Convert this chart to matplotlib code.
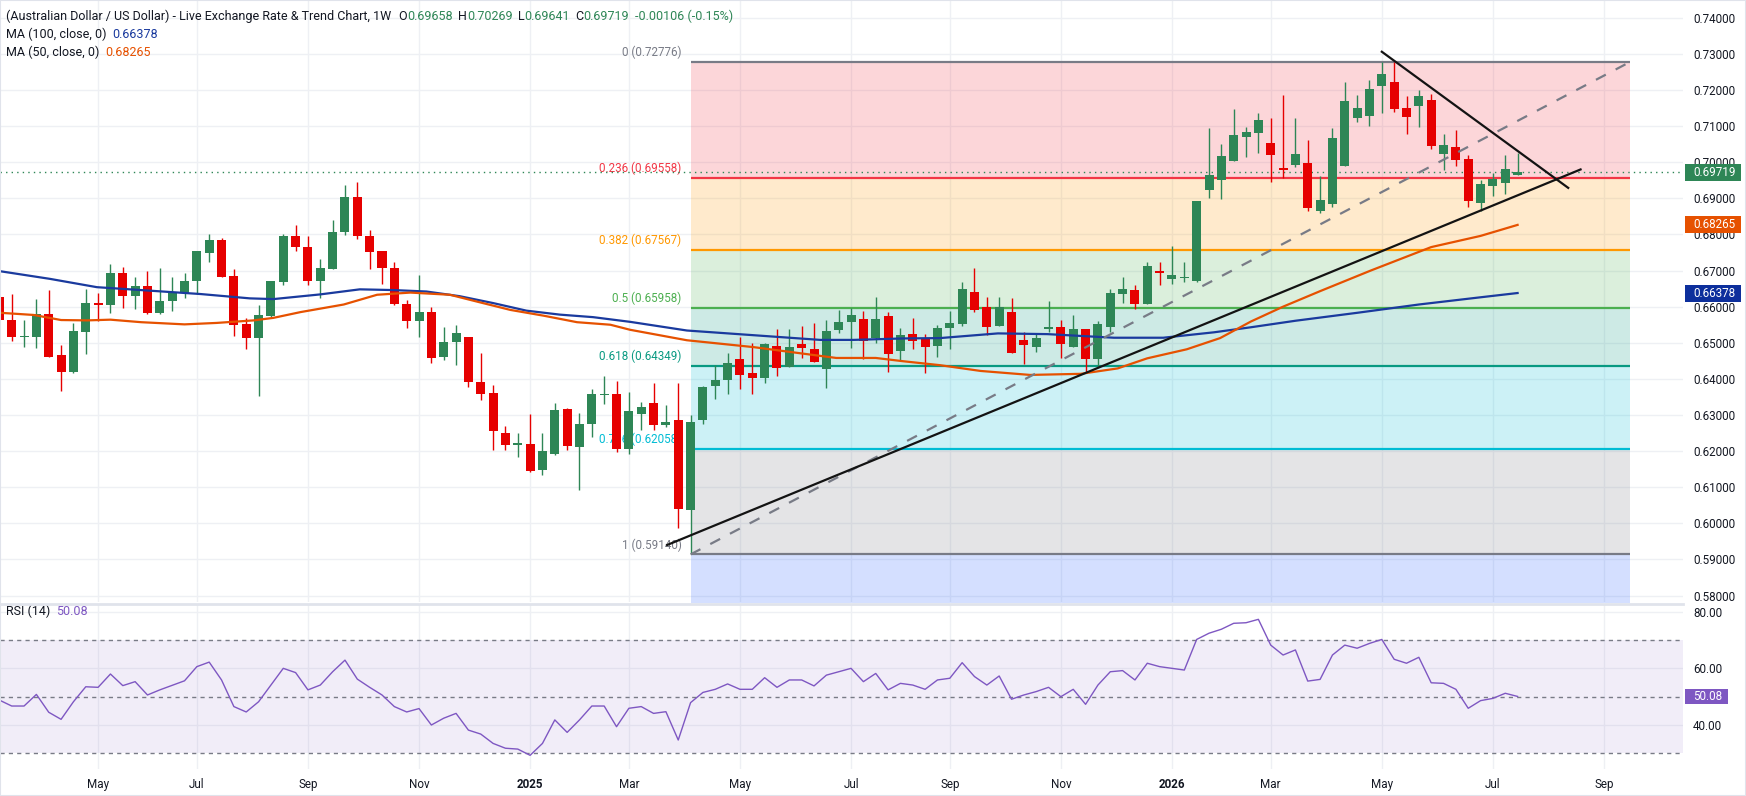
import numpy as np
import matplotlib
matplotlib.use("Agg")
import matplotlib.pyplot as plt
import matplotlib.transforms as mtransforms
from matplotlib.patches import Rectangle
from matplotlib.lines import Line2D

plt.rcParams["font.family"] = ["Roboto", "DejaVu Sans"]

# ── weekly candles, AUD/USD (bar index 0..123) ─────────────────────────────────
OPEN = [0.6626, 0.6564, 0.6515, 0.6515, 0.6581, 0.6465, 0.6418, 0.6531, 0.6611, 0.6604,
        0.6694, 0.6629, 0.6656, 0.6582, 0.6615, 0.6639, 0.6670, 0.6750, 0.6786, 0.6686,
        0.6551, 0.6513, 0.6575, 0.6667, 0.6797, 0.6766, 0.6670, 0.6704, 0.6806, 0.6905,
        0.6796, 0.6753, 0.6708, 0.6608, 0.6560, 0.6584, 0.6460, 0.6502, 0.6515, 0.6391,
        0.6362, 0.6250, 0.6218, 0.6221, 0.6147, 0.6191, 0.6318, 0.6211, 0.6274, 0.6355,
        0.6357, 0.6207, 0.6302, 0.6332, 0.6272, 0.6285, 0.6037, 0.6286, 0.6380, 0.6397,
        0.6454, 0.6415, 0.6402, 0.6490, 0.6434, 0.6496, 0.6482, 0.6427, 0.6536, 0.6557,
        0.6565, 0.6512, 0.6574, 0.6477, 0.6524, 0.6511, 0.6491, 0.6542, 0.6551, 0.6642,
        0.6598, 0.6546, 0.6584, 0.6508, 0.6488, 0.6538, 0.6545, 0.6488, 0.6537, 0.6455,
        0.6543, 0.6635, 0.6645, 0.6607, 0.6700, 0.6677, 0.6680, 0.6670, 0.6923, 0.6952,
        0.7004, 0.7071, 0.7082, 0.7053, 0.6984, 0.6993, 0.6998, 0.6866, 0.6885, 0.6990,
        0.7123, 0.7129, 0.7212, 0.7222, 0.7150, 0.7156, 0.7172, 0.7023, 0.7042, 0.7009,
        0.6887, 0.6934, 0.6942, 0.69658]
HIGH = [0.6632, 0.6636, 0.6562, 0.6620, 0.6647, 0.6495, 0.6556, 0.6650, 0.6639, 0.6717,
        0.6711, 0.6681, 0.6700, 0.6706, 0.6681, 0.6692, 0.6755, 0.6800, 0.6791, 0.6703,
        0.6570, 0.6606, 0.6672, 0.6800, 0.6825, 0.6797, 0.6733, 0.6841, 0.6938, 0.6944,
        0.6811, 0.6755, 0.6725, 0.6619, 0.6689, 0.6600, 0.6545, 0.6550, 0.6517, 0.6472,
        0.6384, 0.6269, 0.6250, 0.6304, 0.6250, 0.6333, 0.6320, 0.6306, 0.6371, 0.6409,
        0.6395, 0.6364, 0.6336, 0.6390, 0.6328, 0.6388, 0.6301, 0.6379, 0.6439, 0.6471,
        0.6515, 0.6499, 0.6499, 0.6537, 0.6537, 0.6546, 0.6554, 0.6564, 0.6590, 0.6597,
        0.6587, 0.6626, 0.6585, 0.6540, 0.6568, 0.6524, 0.6549, 0.6587, 0.6667, 0.6706,
        0.6628, 0.6628, 0.6623, 0.6531, 0.6528, 0.6617, 0.6562, 0.6578, 0.6537, 0.6559,
        0.6648, 0.6683, 0.6661, 0.6725, 0.6725, 0.6767, 0.6725, 0.6894, 0.7095, 0.7050,
        0.7147, 0.7098, 0.7136, 0.7122, 0.7186, 0.7122, 0.7062, 0.6962, 0.7095, 0.7222,
        0.7186, 0.7228, 0.72776, 0.7277, 0.7183, 0.7200, 0.7189, 0.7078, 0.7089, 0.7020,
        0.6951, 0.6971, 0.7020, 0.70269]
LOW = [0.6556, 0.6506, 0.6488, 0.6485, 0.6460, 0.6366, 0.6417, 0.6468, 0.6560, 0.6582,
       0.6596, 0.6593, 0.6581, 0.6579, 0.6587, 0.6623, 0.6636, 0.6725, 0.6681, 0.6518,
       0.6482, 0.6352, 0.6571, 0.6661, 0.6753, 0.6661, 0.6624, 0.6703, 0.6798, 0.6787,
       0.6704, 0.6663, 0.6604, 0.6540, 0.6515, 0.6443, 0.6451, 0.6438, 0.6377, 0.6341,
       0.6203, 0.6203, 0.6183, 0.6141, 0.6133, 0.6190, 0.6202, 0.6092, 0.6238, 0.6330,
       0.6197, 0.6191, 0.6259, 0.6259, 0.6268, 0.5986, 0.5914, 0.6275, 0.6344, 0.6358,
       0.6372, 0.6358, 0.6389, 0.6408, 0.6434, 0.6458, 0.6446, 0.6375, 0.6526, 0.6486,
       0.6455, 0.6500, 0.6420, 0.6451, 0.6483, 0.6416, 0.6462, 0.6482, 0.6547, 0.6585,
       0.6522, 0.6546, 0.6471, 0.6441, 0.6474, 0.6529, 0.6459, 0.6488, 0.6420, 0.6434,
       0.6531, 0.6610, 0.6593, 0.6607, 0.6660, 0.6663, 0.6668, 0.6667, 0.6901, 0.6899,
       0.7004, 0.7015, 0.7026, 0.6946, 0.6957, 0.6988, 0.6866, 0.6860, 0.6877, 0.6990,
       0.7112, 0.7101, 0.7137, 0.7140, 0.7079, 0.7098, 0.7038, 0.6978, 0.6990, 0.6877,
       0.6865, 0.6906, 0.6912, 0.69641]
CLOSE = [0.6562, 0.6515, 0.6518, 0.6581, 0.6462, 0.6418, 0.6534, 0.6611, 0.6604, 0.6694,
         0.6629, 0.6656, 0.6582, 0.6617, 0.6642, 0.6672, 0.6753, 0.6786, 0.6683, 0.6549,
         0.6513, 0.6578, 0.6670, 0.6797, 0.6764, 0.6670, 0.6706, 0.6808, 0.6905, 0.6795,
         0.6751, 0.6706, 0.6607, 0.6560, 0.6584, 0.6457, 0.6501, 0.6526, 0.6391, 0.6358,
         0.6255, 0.6216, 0.6222, 0.6146, 0.6199, 0.6315, 0.6213, 0.6274, 0.6359, 0.6358,
         0.6205, 0.6311, 0.6323, 0.6272, 0.6281, 0.6039, 0.6282, 0.6377, 0.6396, 0.6443,
         0.6411, 0.6402, 0.6497, 0.6430, 0.6488, 0.6486, 0.6447, 0.6532, 0.6557, 0.6576,
         0.6505, 0.6565, 0.6469, 0.6521, 0.6506, 0.6489, 0.6540, 0.6556, 0.6650, 0.6590,
         0.6543, 0.6600, 0.6471, 0.6493, 0.6512, 0.6545, 0.6496, 0.6537, 0.6455, 0.6551,
         0.6639, 0.6650, 0.6607, 0.6714, 0.6693, 0.6689, 0.6683, 0.6894, 0.6964, 0.7017,
         0.7075, 0.7084, 0.7117, 0.7021, 0.6979, 0.7023, 0.6874, 0.6895, 0.7067, 0.7170,
         0.7150, 0.7203, 0.7244, 0.7148, 0.7126, 0.7183, 0.7045, 0.7048, 0.7006, 0.6893,
         0.6940, 0.6954, 0.6981, 0.69719]

RSI = [48.8, 46.7, 46.7, 50.8, 44.5, 42.0, 48.2, 53.5, 53.3, 58.0,
       53.9, 55.3, 50.6, 52.4, 54.0, 55.6, 60.6, 62.2, 55.9, 46.5,
       44.6, 48.2, 54.1, 60.0, 58.5, 52.4, 54.1, 58.8, 62.9, 56.2,
       53.3, 50.6, 46.5, 44.6, 45.8, 40.0, 42.4, 44.1, 38.2, 36.8,
       33.5, 31.8, 31.5, 29.3, 33.5, 41.8, 37.4, 41.8, 46.7, 46.7,
       39.4, 45.9, 46.5, 44.1, 44.7, 34.7, 47.9, 51.5, 52.6, 54.5,
       52.6, 52.6, 56.7, 53.3, 55.9, 55.9, 53.8, 57.6, 58.8, 60.0,
       55.3, 58.2, 52.4, 54.7, 54.1, 52.6, 55.9, 56.5, 62.0, 57.1,
       54.1, 57.3, 49.1, 50.6, 51.8, 53.3, 50.0, 52.6, 47.3, 54.1,
       58.8, 59.2, 55.9, 61.8, 60.6, 60.0, 59.4, 70.2, 72.4, 73.8,
       75.9, 76.1, 77.3, 68.2, 64.7, 66.5, 55.5, 56.1, 64.7, 68.2,
       67.1, 68.8, 70.2, 63.2, 61.8, 63.9, 54.9, 54.7, 52.6, 45.9,
       48.6, 49.4, 51.2, 50.08]

# moving averages, sampled along the drawn curves (bar index, price)
MA100_X = [0.1, 4.1, 7.9, 11.9, 16.3, 20.3, 22.2, 26.0, 29.2, 31.9, 34.6, 37.3, 40.0,
           42.7, 45.4, 48.1, 51.1, 55.7, 61.1, 66.5, 69.2, 73.2, 76.2, 80.9, 84.9,
           90.3, 94.3, 98.4, 101.4, 105, 110, 115, 120, 123]
MA100_Y = [0.6698, 0.6677, 0.6654, 0.6645, 0.6635, 0.6623, 0.6621, 0.6634, 0.6648, 0.6646,
           0.6642, 0.6629, 0.6610, 0.6589, 0.6578, 0.6571, 0.6558, 0.6534, 0.6521, 0.6508,
           0.6508, 0.6512, 0.6513, 0.6526, 0.6524, 0.6514, 0.6514, 0.6529, 0.6543, 0.6561,
           0.6583, 0.6606, 0.6626, 0.66378]
MA50_X = [0.1, 2.8, 5.0, 7.1, 9.0, 11.5, 15.0, 17.6, 20.6, 22.2, 24.4, 27.9, 30.6, 33.3,
          36.5, 38.7, 41.4, 44.1, 46.8, 49.5, 51.1, 55.7, 61.1, 65.1, 67.8, 71.0, 73.2,
          76.2, 79.5, 83.5, 87.6, 90.6, 93.0, 96.2, 98.9, 101.4, 104, 107, 111.1, 116.0,
          120.0, 123]
MA50_Y = [0.6583, 0.6577, 0.6563, 0.6562, 0.6564, 0.6557, 0.6551, 0.6555, 0.6562, 0.6569,
          0.6585, 0.6606, 0.6633, 0.6639, 0.6633, 0.6614, 0.6591, 0.6575, 0.6557, 0.6550,
          0.6536, 0.6507, 0.6488, 0.6470, 0.6458, 0.6458, 0.6449, 0.6438, 0.6422, 0.6411,
          0.6414, 0.6429, 0.6457, 0.6482, 0.6513, 0.6559, 0.6600, 0.6643, 0.6700, 0.6765,
          0.6796, 0.68265]

TICK_POS = [8, 16, 25, 34, 43, 51, 60, 69, 77, 86, 95, 103, 112, 121, 130]
TICK_LABELS = ["May", "Jul", "Sep", "Nov", "2025", "Mar", "May", "Jul", "Sep", "Nov",
               "2026", "Mar", "May", "Jul", "Sep"]

FIB_TAGS = ["0", "0.236", "0.382", "0.5", "0.618", "0.786", "1"]
FIB_PRICES = [0.72776, 0.69558, 0.67567, 0.65958, 0.64349, 0.62058, 0.59140]
FIB_COLORS = ["#787B86", "#F23645", "#FF9800", "#4CAF50", "#089981", "#00BCD4", "#787B86"]
FIB_X = [56, 132.1]

SUPPORT_X, SUPPORT_Y = [54.1, 128.1], [0.5940, 0.6980]
RESIST_X, RESIST_Y = [112.0, 127.1], [0.7306, 0.6929]
DIAG_X, DIAG_Y = [56, 132.1], [0.5914, 0.72776]

LAST_PRICE, MA100_LAST, MA50_LAST, RSI_LAST = 0.69719, 0.66378, 0.68265, 50.08

GREEN, RED = "#2E8656", "#E60000"
BLUE, ORANGE, PURPLE = "#1A3A9E", "#E65100", "#7E57C2"
TXT, GRID = "#131722", "#EEF0F4"
FS = 8.4

# ── figure / panes (pixel layout of the 1746x796 screenshot) ─────────────────
W, H = 1746, 796
fig = plt.figure(figsize=(W / 100, H / 100), dpi=100)
fig.patch.set_facecolor("white")
ax = fig.add_axes([0, 1 - 602 / H, 1683 / W, 602 / H])
ax_r = fig.add_axes([0, 1 - 769 / H, 1683 / W, 164 / H], sharex=ax)

XLIM = (0.052, 136.4)
ax.set_xlim(*XLIM)
ax.set_ylim(0.578214, 0.744929)
ax_r.set_ylim(24.47, 82.36)

for a in (ax, ax_r):
    a.set_axisbelow(True)
    for s in a.spines.values():
        s.set_visible(False)
    a.yaxis.tick_right()
    a.tick_params(axis="y", length=0, pad=7.2, labelsize=FS, labelcolor=TXT)
    a.tick_params(axis="x", length=0)
    a.grid(True, color=GRID, lw=1)

ax.set_yticks(np.round(np.arange(0.58, 0.7401, 0.01), 2))
ax.set_yticklabels([f"{v:.5f}" for v in np.arange(0.58, 0.7401, 0.01)])
ax.set_xticks(TICK_POS)
ax.tick_params(axis="x", labelbottom=False)

# ── fibonacci retracement ────────────────────────────────────────────────────
levels = FIB_PRICES + [0.50]
fill_cols = FIB_COLORS[1:] + ["#2962FF"]
for k in range(len(FIB_PRICES)):
    ax.fill_between(FIB_X, levels[k + 1], levels[k], color=fill_cols[k], alpha=0.2,
                    lw=0, zorder=1)
for tag, p, c in zip(FIB_TAGS, FIB_PRICES, FIB_COLORS):
    ax.plot(FIB_X, [p, p], color=c, lw=1.6, zorder=2, solid_capstyle="butt")
    ax.annotate(f"{tag} ({p:.5f})", xy=(FIB_X[0], p), xytext=(-6.5, 2),
                textcoords="offset points", ha="right", va="bottom", color=c,
                fontsize=FS, zorder=2)

ax.axhline(LAST_PRICE, color=GREEN, lw=1, ls=(0, (1, 3)), zorder=2.5)

# ── candles ──────────────────────────────────────────────────────────────────
o, h, l, c = map(np.array, (OPEN, HIGH, LOW, CLOSE))
x = np.arange(len(o))
cols = np.where(c >= o, GREEN, RED)
ax.vlines(x, l, h, colors=cols, lw=1.0, zorder=3)
body = np.maximum(np.abs(c - o), 0.0003)
ax.bar(x, body, bottom=np.minimum(o, c), width=0.73, color=cols, lw=0, zorder=3)

# ── moving averages & trend lines ────────────────────────────────────────────
ax.plot(MA100_X, MA100_Y, color=BLUE, lw=1.6, zorder=4)
ax.plot(MA50_X, MA50_Y, color=ORANGE, lw=1.6, zorder=4)
ax.plot(DIAG_X, DIAG_Y, color="#787B86", lw=1.6, ls=(0, (5, 5)), zorder=5)
ax.plot(SUPPORT_X, SUPPORT_Y, color="#131313", lw=1.6, zorder=5)
ax.plot(RESIST_X, RESIST_Y, color="#131313", lw=1.6, zorder=5)

# ── price-scale tags ─────────────────────────────────────────────────────────
def scale_tag(a, val, text, color, half_h, x0=1685, x1=1741):
    tr = mtransforms.blended_transform_factory(a.transAxes, a.transData)
    a.add_patch(Rectangle((x0 / 1683, val - half_h), (x1 - x0) / 1683, 2 * half_h,
                          transform=tr, color=color, lw=0, clip_on=False, zorder=10))
    a.text(1693 / 1683, val, text, transform=tr, color="white", fontsize=FS,
           va="center", ha="left", zorder=11, clip_on=False)

scale_tag(ax, LAST_PRICE, f"{LAST_PRICE:.5f}", GREEN, 8.5 / 3611)
scale_tag(ax, MA50_LAST, f"{MA50_LAST:.5f}", ORANGE, 8.5 / 3611)
scale_tag(ax, MA100_LAST, f"{MA100_LAST:.5f}", "#0D2F9C", 8.5 / 3611)

# ── RSI pane ─────────────────────────────────────────────────────────────────
ax_r.axhspan(30, 70, color=PURPLE, alpha=0.1, lw=0, zorder=1)
for lv in (70, 50, 30):
    ax_r.axhline(lv, color="#787B86", lw=1, ls=(0, (3, 3)), zorder=2)
ax_r.plot(x, RSI, color=PURPLE, lw=1.0, zorder=3)
ax_r.set_yticks([40, 60, 80])
ax_r.set_yticklabels(["40.00", "60.00", "80.00"])
ax_r.set_xticks(TICK_POS)
ax_r.set_xticklabels(TICK_LABELS)
ax_r.tick_params(axis="x", pad=6.5, labelsize=FS, labelcolor=TXT)
for t in ax_r.get_xticklabels():
    if t.get_text().isdigit():
        t.set_fontweight("bold")
scale_tag(ax_r, RSI_LAST, f"{RSI_LAST:.2f}", PURPLE, 7.5 / 2.833, x1=1728)

fig.add_artist(Line2D([0, 1683 / W], [1 - 603.5 / H] * 2, transform=fig.transFigure,
                      color="#E0E3EB", lw=2))
fig.add_artist(Rectangle((0, 0), 1, 1, transform=fig.transFigure, fill=False,
                         ec="#E0E3EB", lw=1.5))

# ── legend header text ───────────────────────────────────────────────────────
def chain(a, ypx, parts, pane_top=0, pane_h=602):
    prev = a.text(6 / 1683, 1 - (ypx - pane_top) / pane_h, parts[0][0], color=parts[0][1],
                  transform=a.transAxes, fontsize=9, va="center", ha="left", zorder=12)
    for s, col, gap in parts[1:]:
        prev = a.annotate(s, xy=(1, 0), xycoords=prev, xytext=(gap, 0),
                          textcoords="offset points", va="bottom", ha="left",
                          color=col, fontsize=9, zorder=12)

chain(ax, 16.5, [("(Australian Dollar / US Dollar) - Live Exchange Rate & Trend Chart, 1W", TXT),
                 ("O", TXT, 5), ("0.69658", GREEN, 0), ("H", TXT, 4), ("0.70269", GREEN, 0),
                 ("L", TXT, 4), ("0.69641", GREEN, 0), ("C", TXT, 4), ("0.69719", GREEN, 0),
                 ("-0.00106 (-0.15%)", GREEN, 4)])
chain(ax, 34.5, [("MA (100, close, 0)", TXT), ("0.66378", BLUE, 4)])
chain(ax, 52.5, [("MA (50, close, 0)", TXT), ("0.68265", ORANGE, 4)])
chain(ax_r, 611, [("RSI (14)", TXT), ("50.08", PURPLE, 4)], pane_top=605, pane_h=164)

fig.savefig("out.png", dpi=100)
